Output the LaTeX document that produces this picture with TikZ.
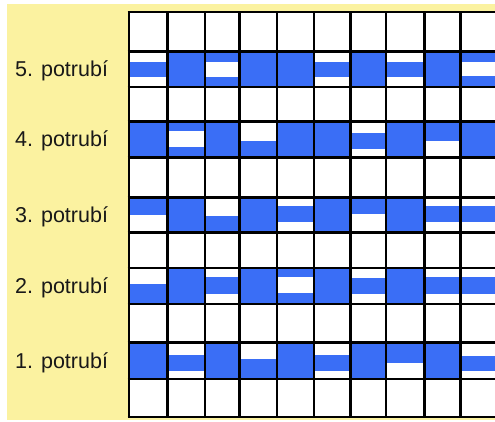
\documentclass[tikz,border=0pt]{standalone}
\usepackage{fontspec}
\setmainfont{Liberation Sans}
\definecolor{pblue}{RGB}{58,110,246}
\definecolor{pyellow}{RGB}{251,242,160}
\definecolor{ptext}{RGB}{25,25,25}
\tikzset{
  gridline/.style={black, line width=2.6pt},
  lbl/.style={anchor=base west, inner sep=0pt, text=ptext, font=\fontsize{21.5}{24}\selectfont}
}
\newcommand\pcellrow[3]{%
  \foreach \xl/\xr/\a/\b/\wa/\wb in {#3}{
    \fill[pblue] (\xl,{#1+\a*(#2-#1)}) rectangle (\xr,{#1+\b*(#2-#1)});
    \fill[white] (\xl,{#1+\wa*(#2-#1)}) rectangle (\xr,{#1+\wb*(#2-#1)});
  }}
\begin{document}
\begin{tikzpicture}[x=1pt,y=-1pt]
\useasboundingbox (0,0) rectangle (495,422);
\fill[white] (0,0) rectangle (495,422);
\fill[pyellow] (7,4) rectangle (495,419.5);
\fill[white] (129,12) rectangle (497,417);
% 5. potrubi
\pcellrow{51.5}{87}{129/167.5/.29/.72/0/0, 167.5/205/0/1/0/0, 205/239.5/0/1/.29/.72, 239.5/277/0/1/0/0, 277/314/0/1/0/0, 314/350.5/.29/.72/0/0, 350.5/386/0/1/0/0, 386/424.5/.29/.72/0/0, 424.5/460.5/0/1/0/0, 460.5/497/0/1/.29/.70}
% 4. potrubi
\pcellrow{121.5}{157.5}{129/167.5/0/1/0/0, 167.5/205/0/1/.26/.72, 205/239.5/0/1/0/0, 239.5/277/.53/1/0/0, 277/314/0/1/0/0, 314/350.5/0/1/0/0, 350.5/386/.31/.77/0/0, 386/424.5/0/1/0/0, 424.5/460.5/0/.53/0/0, 460.5/497/0/1/0/0}
% 3. potrubi
\pcellrow{197.5}{232.5}{129/167.5/0/.5/0/0, 167.5/205/0/1/0/0, 205/239.5/.53/1/0/0, 239.5/277/0/1/0/0, 277/314/.24/.69/0/0, 314/350.5/0/1/0/0, 350.5/386/0/.47/0/0, 386/424.5/0/1/0/0, 424.5/460.5/.24/.69/0/0, 460.5/497/.24/.69/0/0}
% 2. potrubi
\pcellrow{268}{304}{129/167.5/.44/1/0/0, 167.5/205/0/1/0/0, 205/239.5/.26/.72/0/0, 239.5/277/0/1/0/0, 277/314/0/1/.24/.70, 314/350.5/0/1/0/0, 350.5/386/.28/.72/0/0, 386/424.5/0/1/0/0, 424.5/460.5/.26/.72/0/0, 460.5/497/.26/.72/0/0}
% 1. potrubi
\pcellrow{342.5}{379}{129/167.5/0/1/0/0, 167.5/205/.34/.77/0/0, 205/239.5/0/1/0/0, 239.5/277/.46/1/0/0, 277/314/0/1/0/0, 314/350.5/.34/.77/0/0, 350.5/386/0/1/0/0, 386/424.5/0/.55/0/0, 424.5/460.5/0/1/0/0, 460.5/497/.36/.79/0/0}
% grid lines
\foreach \x in {129,167.5,205,239.5,277,314,350.5,386,424.5,460.5}
  \draw[gridline] (\x,12) -- (\x,417);
\foreach \y in {12,51.5,87,121.5,157.5,197.5,232.5,268,304,342.5,379,417}
  \draw[gridline] (127.7,\y) -- (497,\y);
% labels
\node[lbl] (p5) at (15,77) {5. potrubí};
\node[lbl] (p4) at (15,147) {4. potrubí};
\node[lbl] (p3) at (15,222.5) {3. potrubí};
\node[lbl] (p2) at (15,293.5) {2. potrubí};
\node[lbl] (p1) at (15,368) {1. potrubí};
\end{tikzpicture}
\end{document}
